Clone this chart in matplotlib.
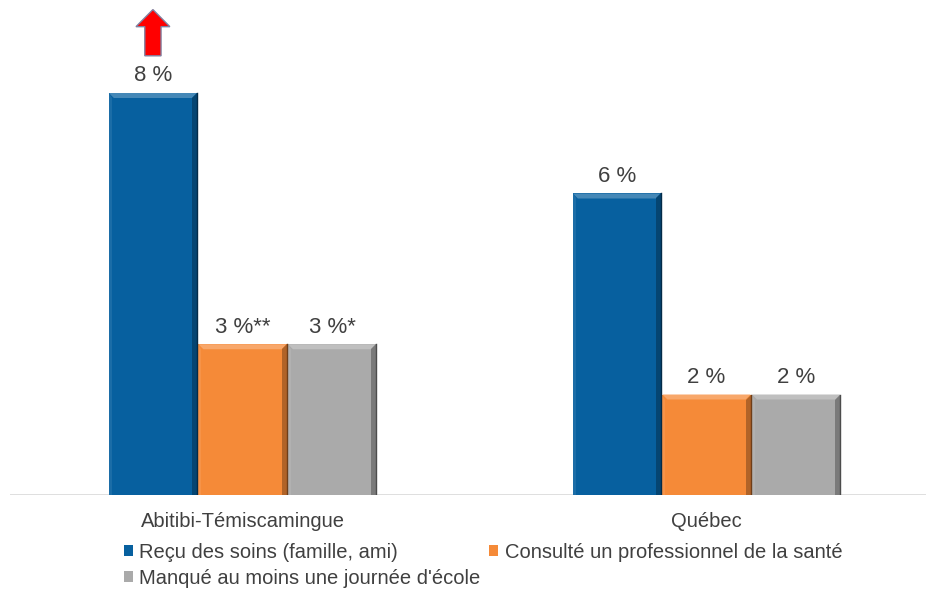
import matplotlib.pyplot as plt
from matplotlib.patches import Polygon, FancyArrow
import matplotlib.colors as mcolors
import numpy as np

plt.rcParams['font.family'] = ['Liberation Sans', 'DejaVu Sans']

# données
regions = ['Abitibi-Témiscamingue', 'Québec']
series = ['Reçu des soins (famille, ami)',
          'Consulté un professionnel de la santé',
          "Manqué au moins une journée d'école"]
values = [[8, 6], [3, 2], [3, 2]]
labels = [['8 %', '6 %'], ['3 %**', '2 %'], ['3 %*', '2 %']]
colors = ['#07609F', '#F58A38', '#AAAAAA']
TXT = '#404040'


def shade(c, f):
    r = np.array(mcolors.to_rgb(c))
    if f > 0:
        r = r + (1 - r) * f
    else:
        r = r * (1 + f)
    return tuple(np.clip(r, 0, 1))


fig = plt.figure(figsize=(9.26, 5.92), dpi=100)
ax = fig.add_axes([10 / 926, 97 / 592, 916 / 926, 495 / 592])
ax.set_xlim(-0.501, 1.473)
ax.set_ylim(0, 495 / 50.25)
for s in ax.spines.values():
    s.set_visible(False)
ax.set_xticks([])
ax.set_yticks([])
ax.axhline(0, color='#D9D9D9', lw=1.2, zorder=1)

x = np.arange(len(regions))
w = 0.19
step = 0.193
bx, by = 5 / 464, 5 / 50.25
handles = []
for i, (vals, col) in enumerate(zip(values, colors)):
    bars = ax.bar(x + (i - 1) * step, vals, w, color=col, zorder=2, label=series[i])
    handles.append(bars)
    for b, lab in zip(bars, labels[i]):
        x0, bw, h = b.get_x(), b.get_width(), b.get_height()
        # effet biseau
        ax.add_patch(Polygon([(x0, h), (x0 + bw, h), (x0 + bw - bx, h - by), (x0 + bx, h - by)],
                             closed=True, color=shade(col, 0.25), lw=0, zorder=3))
        ax.add_patch(Polygon([(x0 + bw, h), (x0 + bw, 0), (x0 + bw - bx, 0), (x0 + bw - bx, h - by)],
                             closed=True, color=shade(col, -0.28), lw=0, zorder=3))
        ax.add_patch(Polygon([(x0, h), (x0, 0), (x0 + bx * 0.6, 0), (x0 + bx * 0.6, h - by)],
                             closed=True, color=shade(col, 0.08), lw=0, zorder=3))
        ax.plot([x0 + bw, x0 + bw], [0, h], color=shade(col, -0.55), lw=1, zorder=4)
        ax.text(x0 + bw / 2, h + 0.13, lab, ha='center', va='bottom',
                fontsize=16, color=TXT)

for xi, r in zip(x, regions):
    ax.text(xi, -0.52, r, ha='center', va='center', fontsize=14.5, color=TXT, clip_on=False)

# flèche rouge
b0 = handles[0][0]
ax.add_patch(FancyArrow(b0.get_x() + b0.get_width() / 2, b0.get_height() + 0.74, 0, 0.92,
                        width=0.035, head_width=0.073, head_length=0.34,
                        length_includes_head=True, facecolor='#FF0000',
                        edgecolor='#8080A0', lw=1, zorder=5, clip_on=False))

order = [handles[0], handles[2], handles[1]]
leg = fig.legend(order, [series[0], series[2], series[1]], ncol=2,
                 loc='upper left', bbox_to_anchor=(124 / 926, 1 - 543 / 592),
                 frameon=False, fontsize=14.5, handlelength=0.45, handleheight=0.45,
                 handletextpad=0.3, columnspacing=0.45, labelspacing=0.35,
                 borderpad=0, borderaxespad=0)
for t in leg.get_texts():
    t.set_color(TXT)

fig.savefig('out.png', dpi=100, facecolor='white')
